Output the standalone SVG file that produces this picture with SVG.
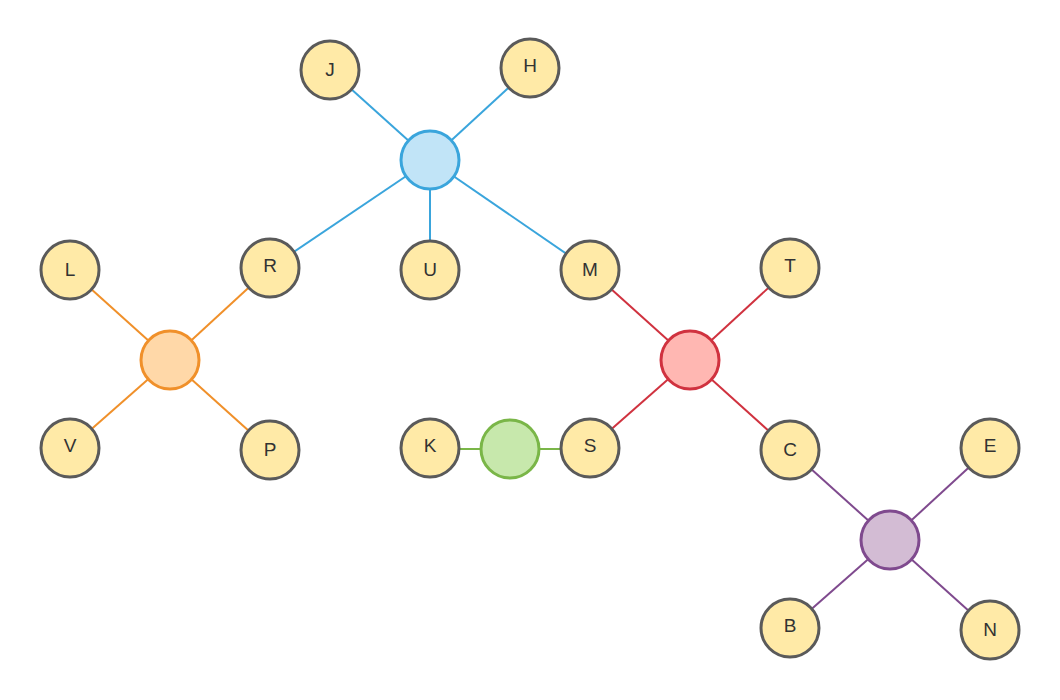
<svg xmlns="http://www.w3.org/2000/svg" width="1060" height="700" viewBox="0 0 1060 700">
<style>
.leaf{fill:#ffeaa7;stroke:#5a5a5a;stroke-width:3}
.lbl{font-family:"Liberation Sans",Arial,sans-serif;font-size:19px;fill:#333;text-anchor:middle;dominant-baseline:central}
.e{stroke-width:2;fill:none}
.hub{stroke-width:3}
</style>
<rect width="1060" height="700" fill="#ffffff"/>
<g id="connectors">
<g stroke="#3aa5dc" class="e">
<line x1="430" y1="160" x2="330" y2="70"/>
<line x1="430" y1="160" x2="530" y2="68"/>
<line x1="430" y1="160" x2="270" y2="268"/>
<line x1="430" y1="160" x2="430" y2="270"/>
<line x1="430" y1="160" x2="590" y2="270"/>
</g>
<g stroke="#f0902a" class="e">
<line x1="170" y1="360" x2="70" y2="270"/>
<line x1="170" y1="360" x2="270" y2="268"/>
<line x1="170" y1="360" x2="70" y2="448"/>
<line x1="170" y1="360" x2="270" y2="450"/>
</g>
<g stroke="#d0323f" class="e">
<line x1="690" y1="360" x2="590" y2="270"/>
<line x1="690" y1="360" x2="790" y2="268"/>
<line x1="690" y1="360" x2="590" y2="448"/>
<line x1="690" y1="360" x2="790" y2="450"/>
</g>
<g stroke="#7ab648" class="e">
<line x1="510" y1="449" x2="430" y2="449"/>
<line x1="510" y1="449" x2="590" y2="449"/>
</g>
<g stroke="#7f4a8e" class="e">
<line x1="890" y1="540" x2="790" y2="450"/>
<line x1="890" y1="540" x2="990" y2="448"/>
<line x1="890" y1="540" x2="790" y2="628"/>
<line x1="890" y1="540" x2="990" y2="630"/>
</g>
</g>
<g id="hub-blue"><circle class="hub" cx="430" cy="160" r="29" fill="#c1e4f7" stroke="#3aa5dc"/></g>
<g id="hub-orange"><circle class="hub" cx="170" cy="360" r="29" fill="#ffd8a8" stroke="#f0902a"/></g>
<g id="hub-red"><circle class="hub" cx="690" cy="360" r="29" fill="#ffb7b2" stroke="#d0323f"/></g>
<g id="hub-green"><circle class="hub" cx="510" cy="449" r="29" fill="#c7e8ac" stroke="#7ab648"/></g>
<g id="hub-purple"><circle class="hub" cx="890" cy="540" r="29" fill="#d3bcd4" stroke="#7f4a8e"/></g>
<g id="J"><circle class="leaf" cx="330" cy="70" r="29"/><text class="lbl" x="330" y="69">J</text></g>
<g id="H"><circle class="leaf" cx="530" cy="68" r="29"/><text class="lbl" x="530" y="65">H</text></g>
<g id="R"><circle class="leaf" cx="270" cy="268" r="29"/><text class="lbl" x="270" y="265">R</text></g>
<g id="U"><circle class="leaf" cx="430" cy="270" r="29"/><text class="lbl" x="430" y="269">U</text></g>
<g id="M"><circle class="leaf" cx="590" cy="270" r="29"/><text class="lbl" x="590" y="269">M</text></g>
<g id="L"><circle class="leaf" cx="70" cy="270" r="29"/><text class="lbl" x="70" y="269">L</text></g>
<g id="V"><circle class="leaf" cx="70" cy="448" r="29"/><text class="lbl" x="70" y="445">V</text></g>
<g id="P"><circle class="leaf" cx="270" cy="450" r="29"/><text class="lbl" x="270" y="449">P</text></g>
<g id="T"><circle class="leaf" cx="790" cy="268" r="29"/><text class="lbl" x="790" y="265">T</text></g>
<g id="K"><circle class="leaf" cx="430" cy="448" r="29"/><text class="lbl" x="430" y="445">K</text></g>
<g id="S"><circle class="leaf" cx="590" cy="448" r="29"/><text class="lbl" x="590" y="445">S</text></g>
<g id="C"><circle class="leaf" cx="790" cy="450" r="29"/><text class="lbl" x="790" y="449">C</text></g>
<g id="E"><circle class="leaf" cx="990" cy="448" r="29"/><text class="lbl" x="990" y="445">E</text></g>
<g id="B"><circle class="leaf" cx="790" cy="628" r="29"/><text class="lbl" x="790" y="625">B</text></g>
<g id="N"><circle class="leaf" cx="990" cy="630" r="29"/><text class="lbl" x="990" y="629">N</text></g>
</svg>
